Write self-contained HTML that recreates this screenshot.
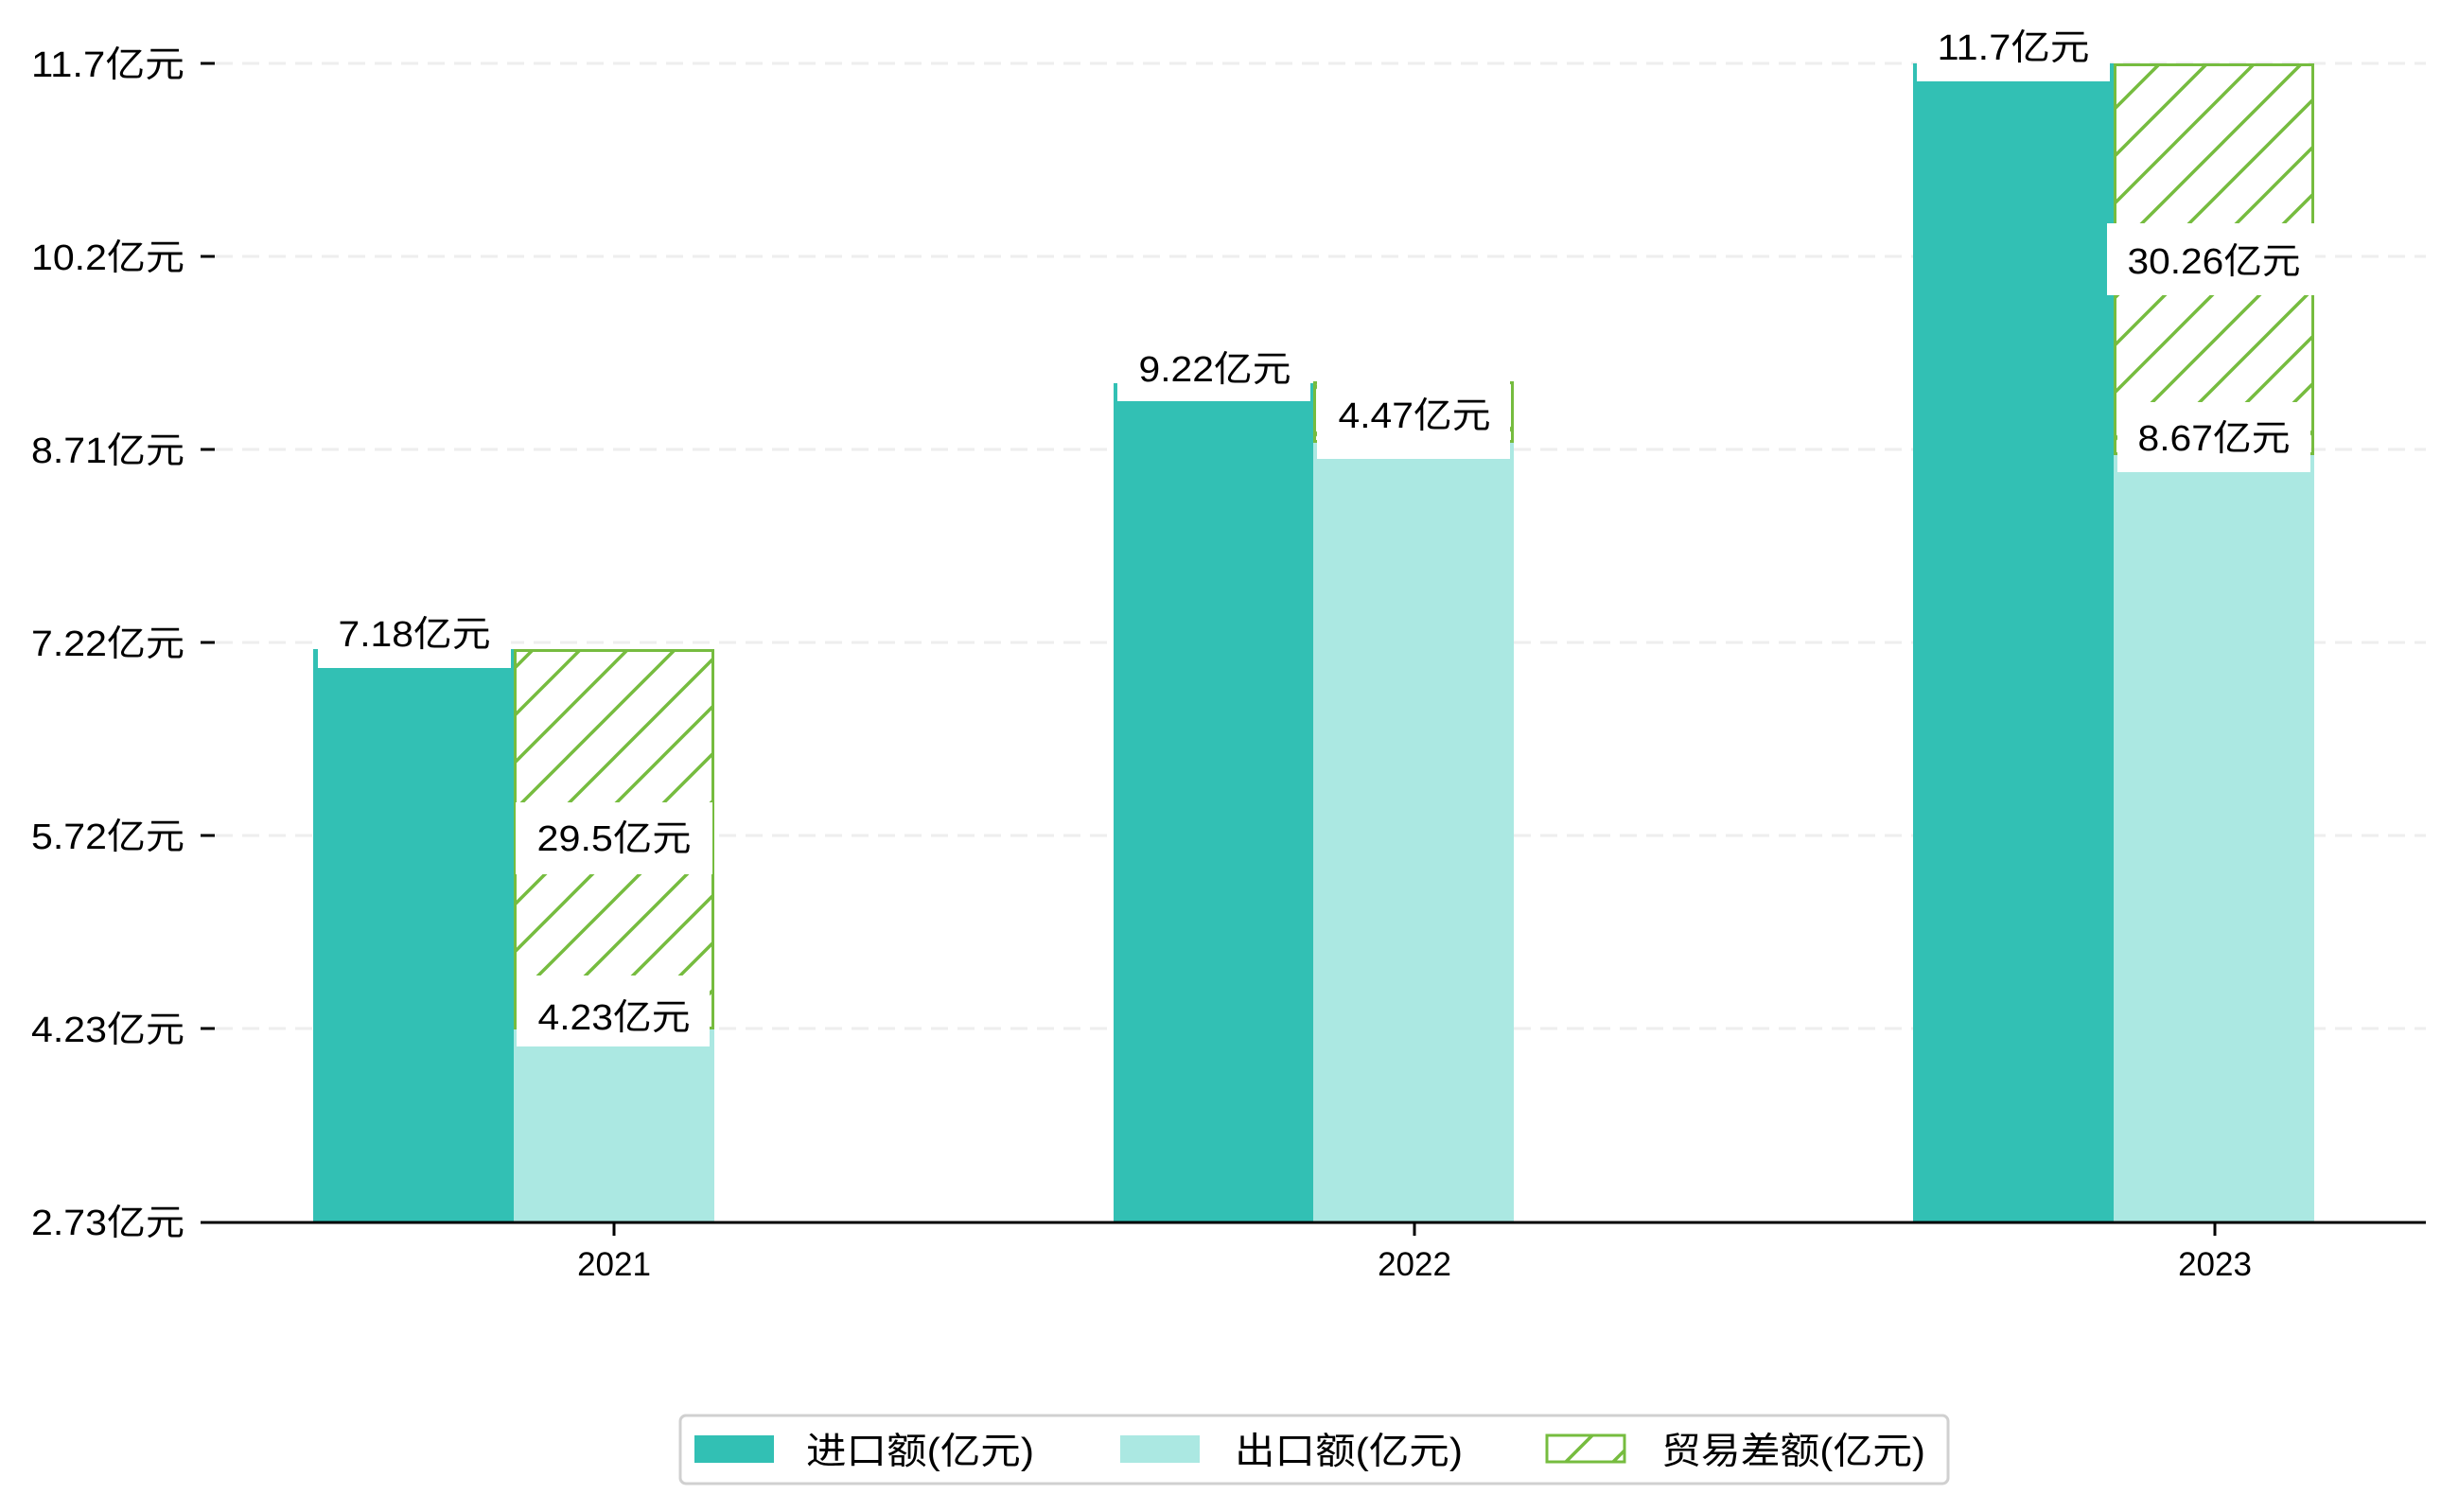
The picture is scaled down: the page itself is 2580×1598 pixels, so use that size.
<!DOCTYPE html>
<html><head><meta charset="utf-8"><style>
html,body{margin:0;padding:0;background:#fff;}
svg{display:block;}
text{font-family:"Liberation Sans","Noto Sans CJK SC",sans-serif;fill:#000;}
</style></head><body>
<svg width="2580" height="1598" viewBox="0 0 2580 1598" xmlns="http://www.w3.org/2000/svg">
<defs>
<pattern id="h" patternUnits="userSpaceOnUse" width="50" height="50">
<line x1="-5" y1="55" x2="55" y2="-5" stroke="#76bc3f" stroke-width="3.5"/>
<line x1="-30" y1="30" x2="30" y2="-30" stroke="#76bc3f" stroke-width="3.5"/>
<line x1="20" y1="80" x2="80" y2="20" stroke="#76bc3f" stroke-width="3.5"/>
</pattern>
</defs>
<g stroke="#eeeeee" stroke-width="3" stroke-dasharray="18,10">
<line x1="228" y1="67" x2="2564" y2="67"/>
<line x1="228" y1="271" x2="2564" y2="271"/>
<line x1="228" y1="475" x2="2564" y2="475"/>
<line x1="228" y1="679" x2="2564" y2="679"/>
<line x1="228" y1="883" x2="2564" y2="883"/>
<line x1="228" y1="1087" x2="2564" y2="1087"/>
</g>
<g stroke="#000" stroke-width="3">
<line x1="212" y1="67" x2="227" y2="67"/>
<line x1="212" y1="271" x2="227" y2="271"/>
<line x1="212" y1="475" x2="227" y2="475"/>
<line x1="212" y1="679" x2="227" y2="679"/>
<line x1="212" y1="883" x2="227" y2="883"/>
<line x1="212" y1="1087" x2="227" y2="1087"/>
</g>
<g font-size="38" text-anchor="end">
<text x="195" y="81" textLength="162" lengthAdjust="spacingAndGlyphs">11.7亿元</text>
<text x="195" y="285" textLength="162" lengthAdjust="spacingAndGlyphs">10.2亿元</text>
<text x="195" y="489" textLength="162" lengthAdjust="spacingAndGlyphs">8.71亿元</text>
<text x="195" y="693" textLength="162" lengthAdjust="spacingAndGlyphs">7.22亿元</text>
<text x="195" y="897" textLength="162" lengthAdjust="spacingAndGlyphs">5.72亿元</text>
<text x="195" y="1101" textLength="162" lengthAdjust="spacingAndGlyphs">4.23亿元</text>
<text x="195" y="1305" textLength="162" lengthAdjust="spacingAndGlyphs">2.73亿元</text>
</g>
<rect x="331" y="686" width="212" height="605" fill="#32c0b4"/>
<rect x="543" y="1087" width="212" height="204" fill="#abe8e2"/>
<rect x="544.5" y="687.5" width="209" height="399" fill="url(#h)" stroke="#76bc3f" stroke-width="3"/>
<rect x="1177" y="405" width="211" height="886" fill="#32c0b4"/>
<rect x="1388" y="467" width="212" height="824" fill="#abe8e2"/>
<rect x="1389.5" y="404.5" width="209" height="62" fill="url(#h)" stroke="#76bc3f" stroke-width="3"/>
<rect x="2022" y="67" width="212" height="1224" fill="#32c0b4"/>
<rect x="2234" y="480" width="212" height="811" fill="#abe8e2"/>
<rect x="2235.5" y="68.5" width="209" height="411" fill="url(#h)" stroke="#76bc3f" stroke-width="3"/>
<g fill="#fff">
<rect x="336" y="640" width="204" height="66"/>
<rect x="545" y="848" width="208" height="76"/>
<rect x="546" y="1031" width="204" height="75"/>
<rect x="1181" y="360" width="204" height="64"/>
<rect x="1392" y="403" width="204" height="82"/>
<rect x="2026" y="15" width="204" height="71"/>
<rect x="2227" y="236" width="220" height="76"/>
<rect x="2238" y="425" width="204" height="74"/>
</g>
<g font-size="38" text-anchor="middle">
<text x="438" y="683" textLength="161" lengthAdjust="spacingAndGlyphs">7.18亿元</text>
<text x="649" y="899" textLength="163" lengthAdjust="spacingAndGlyphs">29.5亿元</text>
<text x="649" y="1088" textLength="161" lengthAdjust="spacingAndGlyphs">4.23亿元</text>
<text x="1284" y="403" textLength="161" lengthAdjust="spacingAndGlyphs">9.22亿元</text>
<text x="1495" y="452" textLength="161" lengthAdjust="spacingAndGlyphs">4.47亿元</text>
<text x="2128" y="63" textLength="161" lengthAdjust="spacingAndGlyphs">11.7亿元</text>
<text x="2340" y="289" textLength="183" lengthAdjust="spacingAndGlyphs">30.26亿元</text>
<text x="2340" y="476" textLength="161" lengthAdjust="spacingAndGlyphs">8.67亿元</text>
</g>
<line x1="212" y1="1292" x2="2564" y2="1292" stroke="#000" stroke-width="3"/>
<g stroke="#000" stroke-width="3">
<line x1="649" y1="1293" x2="649" y2="1306"/>
<line x1="1495" y1="1293" x2="1495" y2="1306"/>
<line x1="2341" y1="1293" x2="2341" y2="1306"/>
</g>
<g font-size="35" text-anchor="middle">
<text x="649" y="1348">2021</text>
<text x="1495" y="1348">2022</text>
<text x="2341" y="1348">2023</text>
</g>
<rect x="719" y="1496" width="1340" height="72" rx="6" fill="#fff" stroke="#d0d0d0" stroke-width="3"/>
<rect x="734" y="1517" width="84" height="29" fill="#32c0b4"/>
<rect x="1184" y="1517" width="84" height="29" fill="#abe8e2"/>
<rect x="1635" y="1517" width="82" height="28" fill="url(#h)" stroke="#76bc3f" stroke-width="3"/>
<g font-size="39">
<text x="852" y="1547" textLength="241" lengthAdjust="spacingAndGlyphs">进口额(亿元)</text>
<text x="1305" y="1547" textLength="241" lengthAdjust="spacingAndGlyphs">出口额(亿元)</text>
<text x="1756" y="1547" textLength="279" lengthAdjust="spacingAndGlyphs">贸易差额(亿元)</text>
</g>
</svg>
</body></html>
